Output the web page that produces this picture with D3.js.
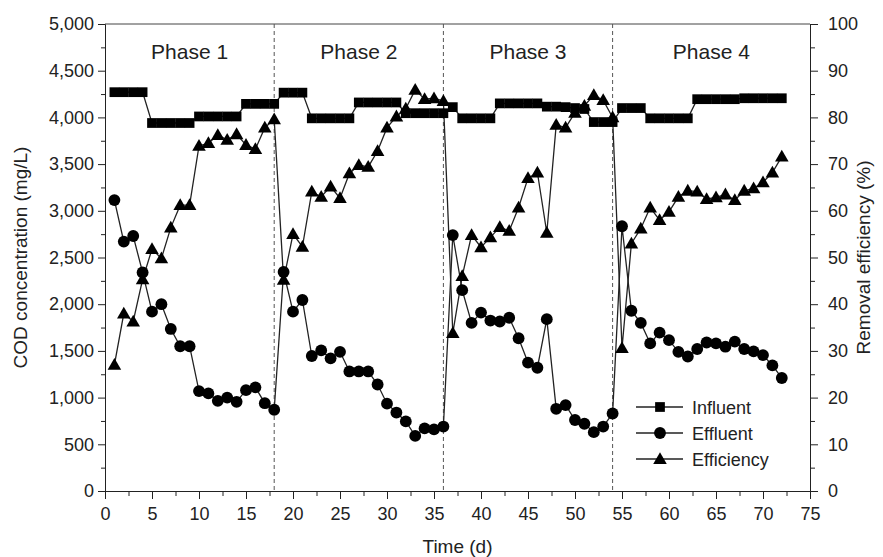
<!DOCTYPE html>
<html>
<head>
<meta charset="utf-8">
<script src="https://cdn.jsdelivr.net/npm/d3@7"></script>
<style>
    body { margin: 0; background: #fff; }
    svg { font-family: "Liberation Sans", Arial, sans-serif; }
    .axis text { font-size: 18px; fill: #222; }
    .axis path, .axis line { stroke: #222; }
</style>
</head>
<body>
<script>
const days = [1, 2, 3, 4, 5, 6, 7, 8, 9, 10, 11, 12, 13, 14, 15, 16, 17, 18,
    19, 20, 21, 22, 23, 24, 25, 26, 27, 28, 29, 30, 31, 32, 33, 34, 35, 36,
    37, 38, 39, 40, 41, 42, 43, 44, 45, 46, 47, 48, 49, 50, 51, 52, 53, 54,
    55, 56, 57, 58, 59, 60, 61, 62, 63, 64, 65, 66, 67, 68, 69, 70, 71, 72]

const influent = [4270, 4270, 4270, 4270, 3940, 3940, 3940, 3940, 3940, 4010, 4010, 4010, 4010, 4010, 4145, 4145, 4145, 4145,
    4265, 4265, 4265, 3990, 3990, 3990, 3990, 3990, 4160, 4160, 4160, 4160, 4160, 4045, 4045, 4045, 4045, 4045,
    4110, 3990, 3990, 3990, 3990, 4150, 4150, 4150, 4150, 4150, 4115, 4115, 4110, 4100, 4090, 3950, 3950, 3950,
    4100, 4100, 4100, 3990, 3990, 3990, 3990, 3990, 4195, 4195, 4195, 4195, 4195, 4205, 4205, 4205, 4205, 4205]

const effluent = [3115, 2670, 2730, 2340, 1920, 2000, 1735, 1550, 1550, 1070, 1045, 965, 1000, 955, 1080, 1110, 940, 870,
    2345, 1920, 2045, 1445, 1505, 1420, 1490, 1280, 1280, 1280, 1140, 935, 840, 745, 590, 670, 660, 690,
    2740, 2150, 1800, 1910, 1825, 1815, 1855, 1635, 1375, 1320, 1840, 880, 920, 760, 720, 630, 690, 830,
    2835, 1930, 1800, 1580, 1695, 1615, 1490, 1440, 1520, 1590, 1580, 1545, 1600, 1520, 1495, 1455, 1345, 1210]

const efficiency = [27, 38, 36.3, 45.3, 51.8, 49.8, 56.4, 61.2, 61.2, 73.9, 74.5, 76.2, 75.2, 76.4, 74.1, 73.2, 77.8, 79.6,
    45.2, 55, 52.3, 64.1, 63, 65.2, 62.7, 68, 69.8, 69.4, 72.8, 77.8, 80.2, 81.9, 85.9, 83.9, 84.1, 83.5,
    33.8, 46, 54.8, 52.2, 54.3, 56.5, 55.7, 60.7, 67, 68.2, 55.3, 78.4, 77.8, 81, 82.5, 84.8, 83.7, 80,
    30.6, 53, 56.2, 60.7, 58, 59.8, 63, 64.3, 64.1, 62.5, 62.9, 63.5, 62.3, 64.3, 64.8, 66.1, 68.2, 71.6]

const phaseBounds = [18, 36, 54]
const phaseNames = ["Phase 1", "Phase 2", "Phase 3", "Phase 4"]
const phaseRanges = [[0, 18], [18, 36], [36, 54], [54, 75]]
const seriesNames = ["Influent", "Effluent", "Efficiency"]

const W = 883, H = 557
const mLeft = 105, mRight = 810, mTop = 24, mBottom = 491

const svg = d3.select("body").append("svg")
    .attr("width", W)
    .attr("height", H)

const x = d3.scaleLinear().domain([0, 75]).range([mLeft, mRight])
const yL = d3.scaleLinear().domain([0, 5000]).range([mBottom, mTop])
const yR = d3.scaleLinear().domain([0, 100]).range([mBottom, mTop])

// frame top line
svg.append("line")
    .attr("x1", mLeft).attr("x2", mRight)
    .attr("y1", mTop).attr("y2", mTop)
    .attr("stroke", "#444")

// phase dividers
svg.selectAll(".divider")
    .data(phaseBounds)
    .enter()
    .append("line")
    .attr("class", "divider")
    .attr("x1", d => x(d)).attr("x2", d => x(d))
    .attr("y1", mTop).attr("y2", mBottom)
    .attr("stroke", "#555")
    .attr("stroke-dasharray", "4,3")

svg.selectAll(".phase")
    .data(phaseNames)
    .enter()
    .append("text")
    .attr("class", "phase")
    .attr("x", (d, i) => x((phaseRanges[i][0] + phaseRanges[i][1]) / 2))
    .attr("y", 59)
    .attr("text-anchor", "middle")
    .attr("font-size", "21px")
    .attr("fill", "#222")
    .text(d => d)

// axes
const xAxis = d3.axisBottom(x).tickValues(d3.range(0, 76, 5)).tickSize(8).tickPadding(8).tickSizeOuter(0)
const xMinor = d3.axisBottom(x).tickValues(d3.range(2.5, 75, 5)).tickSize(5).tickFormat("").tickSizeOuter(0)
const yAxisL = d3.axisLeft(yL).tickValues(d3.range(0, 5001, 500)).tickFormat(d3.format(",")).tickSize(7).tickPadding(4).tickSizeOuter(0)
const yMinorL = d3.axisLeft(yL).tickValues(d3.range(250, 5000, 500)).tickSize(4).tickFormat("").tickSizeOuter(0)
const yAxisR = d3.axisRight(yR).tickValues(d3.range(0, 101, 10)).tickSize(8).tickPadding(10).tickSizeOuter(0)
const yMinorR = d3.axisRight(yR).tickValues(d3.range(5, 100, 10)).tickSize(5).tickFormat("").tickSizeOuter(0)

svg.append("g").attr("class", "axis").attr("transform", "translate(0," + mBottom + ")").call(xAxis)
svg.append("g").attr("class", "axis").attr("transform", "translate(0," + mBottom + ")").call(xMinor)
svg.append("g").attr("class", "axis").attr("transform", "translate(" + mLeft + ",0)").call(yAxisL)
svg.append("g").attr("class", "axis").attr("transform", "translate(" + mLeft + ",0)").call(yMinorL)
svg.append("g").attr("class", "axis").attr("transform", "translate(" + mRight + ",0)").call(yAxisR)
svg.append("g").attr("class", "axis").attr("transform", "translate(" + mRight + ",0)").call(yMinorR)

svg.append("text")
    .attr("x", (mLeft + mRight) / 2)
    .attr("y", 553)
    .attr("text-anchor", "middle")
    .attr("font-size", "19px")
    .attr("fill", "#222")
    .text("Time (d)")

svg.append("text")
    .attr("transform", "translate(27," + (mTop + mBottom) / 2 + ") rotate(-90)")
    .attr("text-anchor", "middle")
    .attr("font-size", "19px")
    .attr("fill", "#222")
    .text("COD concentration (mg/L)")

svg.append("text")
    .attr("transform", "translate(870," + (mTop + mBottom) / 2 + ") rotate(-90)")
    .attr("text-anchor", "middle")
    .attr("font-size", "19px")
    .attr("fill", "#222")
    .text("Removal efficiency (%)")

// series
const lineL = d3.line().x((d, i) => x(days[i])).y(d => yL(d))
const lineR = d3.line().x((d, i) => x(days[i])).y(d => yR(d))

svg.append("path").attr("d", lineL(influent)).attr("fill", "none").attr("stroke", "#222").attr("stroke-width", 1.3)
svg.append("path").attr("d", lineL(effluent)).attr("fill", "none").attr("stroke", "#222").attr("stroke-width", 1.3)
svg.append("path").attr("d", lineR(efficiency)).attr("fill", "none").attr("stroke", "#222").attr("stroke-width", 1.3)

const sq = d3.symbol().type(d3.symbolSquare).size(95)
const ci = d3.symbol().type(d3.symbolCircle).size(110)
const tri = d3.symbol().type(d3.symbolTriangle).size(80)

svg.selectAll(".inf")
    .data(influent)
    .enter()
    .append("path")
    .attr("class", "inf")
    .attr("d", sq)
    .attr("transform", (d, i) => "translate(" + x(days[i]) + "," + yL(d) + ")")
    .attr("fill", "#000")

svg.selectAll(".eff")
    .data(effluent)
    .enter()
    .append("path")
    .attr("class", "eff")
    .attr("d", ci)
    .attr("transform", (d, i) => "translate(" + x(days[i]) + "," + yL(d) + ")")
    .attr("fill", "#000")

svg.selectAll(".re")
    .data(efficiency)
    .enter()
    .append("path")
    .attr("class", "re")
    .attr("d", tri)
    .attr("transform", (d, i) => "translate(" + x(days[i]) + "," + (yR(d) + 1) + ")")
    .attr("fill", "#000")

// legend
const syms = [sq, ci, tri]
const legend = svg.selectAll(".legend")
    .data(seriesNames)
    .enter()
    .append("g")
    .attr("class", "legend")
    .attr("transform", (d, i) => "translate(636," + (407 + i * 26) + ")")

legend.append("line")
    .attr("x1", 0).attr("x2", 47)
    .attr("stroke", "#222").attr("stroke-width", 1.3)
legend.append("path")
    .attr("d", (d, i) => syms[i]())
    .attr("transform", (d, i) => "translate(24," + (i == 2 ? 1 : 0) + ")")
    .attr("fill", "#000")
legend.append("text")
    .attr("x", 56)
    .attr("y", 7)
    .attr("font-size", "18px")
    .attr("fill", "#222")
    .text(d => d)
</script>
</body>
</html>
